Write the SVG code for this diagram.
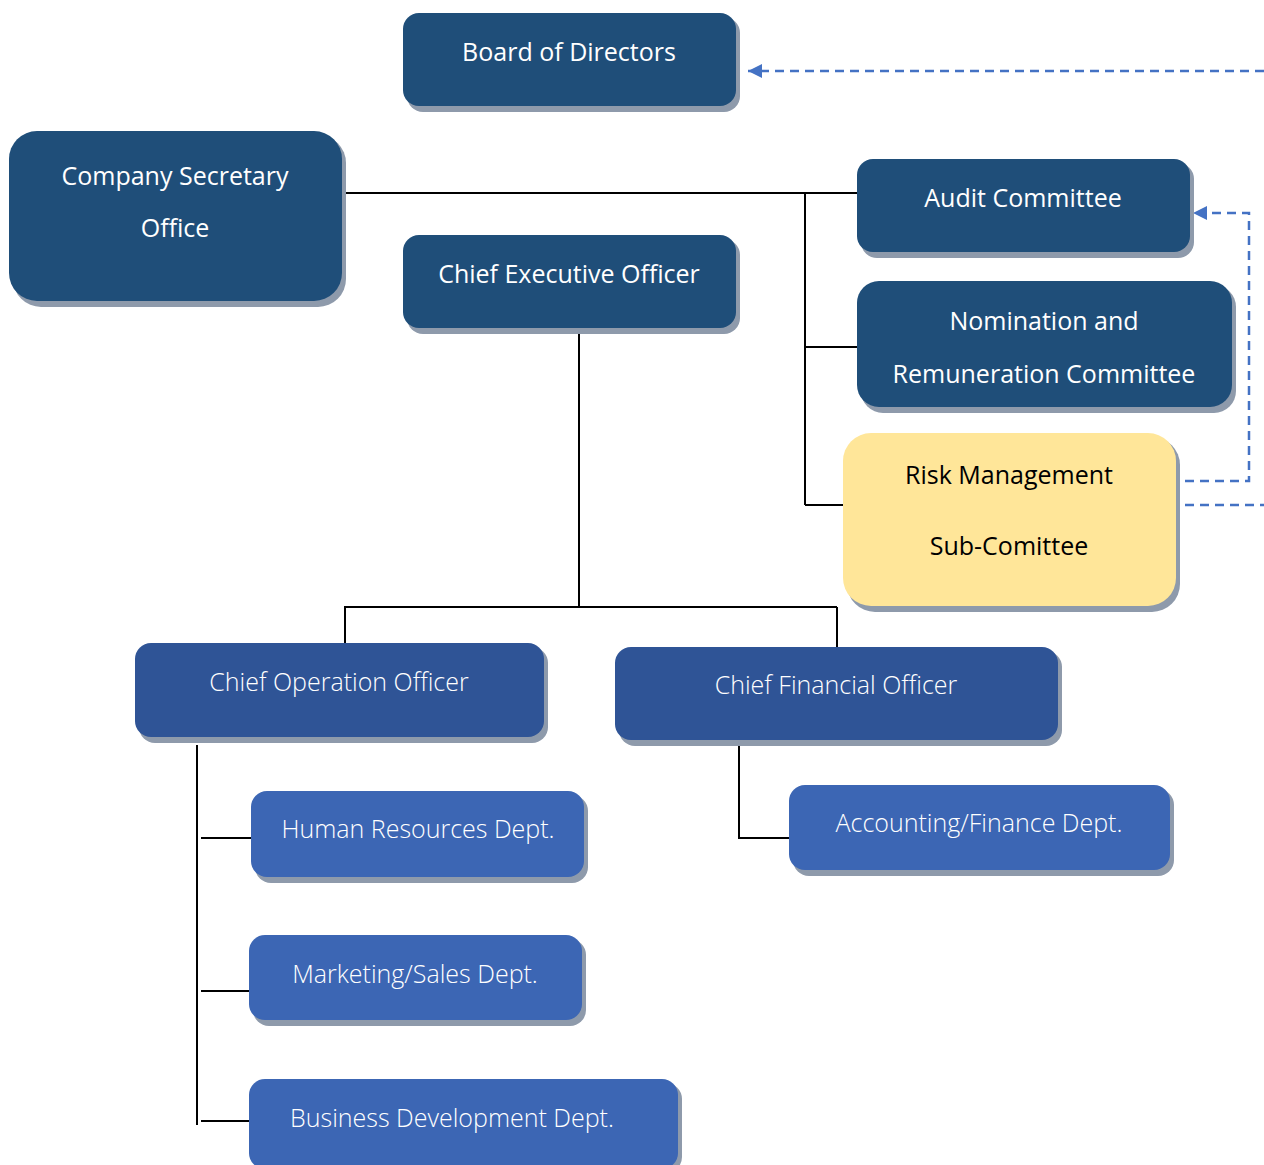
<svg xmlns="http://www.w3.org/2000/svg" width="1264" height="1165" viewBox="0 0 1264 1165">
<style>
.sh{fill:#8e9aab}
.dk{fill:#1f4e79}
.md{fill:#2f5496}
.lt{fill:#3c66b4}
.yl{fill:#ffe699}
.t{font-family:"Open Sans","Noto Sans",sans-serif;font-size:25px;fill:#ffffff;text-anchor:middle}
.tl{font-weight:300}
.tb{fill:#000000}
.ln{stroke:#000;stroke-width:2;fill:none}
.ds{stroke:#4472c4;stroke-width:2.5;fill:none;stroke-dasharray:9 6}
</style>
<defs>
<marker id="ar" viewBox="0 0 10 10" refX="10" refY="5" markerWidth="15" markerHeight="14" markerUnits="userSpaceOnUse" orient="auto">
<path d="M0,0 L10,5 L0,10 z" fill="#4472c4"/>
</marker>
</defs>
<g id="connectors">
<path class="ln" d="M342,193 H857 M805,193 V505 M805,347 H857 M805,505 H843"/>
<path class="ln" d="M579,328 V607 M344,607 H837 M345,607 V643 M837,607 V647"/>
<path class="ln" d="M197,745 V1125 M201,838 H251 M201,991 H249 M201,1121 H249"/>
<path class="ln" d="M739,743 V838 H789"/>
<path class="ds" d="M1264,71 H748" marker-end="url(#ar)"/>
<path class="ds" d="M1185,481 H1249 V213 H1193" marker-end="url(#ar)"/>
<path class="ds" d="M1185,505 H1264"/>
</g>
<g id="board">
<rect class="sh" x="407" y="17" width="333" height="95" rx="16"/>
<rect class="dk" x="403" y="13" width="333" height="93" rx="16"/>
<text class="t" x="569" y="61">Board of Directors</text>
</g>
<g id="secretary">
<rect class="sh" x="13" y="135" width="333" height="172" rx="28"/>
<rect class="dk" x="9" y="131" width="333" height="170" rx="28"/>
<text class="t" x="175" y="185">Company Secretary</text>
<text class="t" x="175" y="237">Office</text>
</g>
<g id="audit">
<rect class="sh" x="861" y="163" width="333" height="95" rx="16"/>
<rect class="dk" x="857" y="159" width="333" height="93" rx="16"/>
<text class="t" x="1023" y="207">Audit Committee</text>
</g>
<g id="nomination">
<rect class="sh" x="861" y="285" width="375" height="128" rx="22"/>
<rect class="dk" x="857" y="281" width="375" height="126" rx="22"/>
<text class="t" x="1044" y="330">Nomination and</text>
<text class="t" x="1044" y="383">Remuneration Committee</text>
</g>
<g id="risk">
<rect class="sh" x="847" y="437" width="333" height="175" rx="28"/>
<rect class="yl" x="843" y="433" width="333" height="173" rx="28"/>
<text class="t tb" x="1009" y="484">Risk Management</text>
<text class="t tb" x="1009" y="555">Sub-Comittee</text>
</g>
<g id="ceo">
<rect class="sh" x="407" y="239" width="333" height="95" rx="16"/>
<rect class="dk" x="403" y="235" width="333" height="93" rx="16"/>
<text class="t" x="569" y="283">Chief Executive Officer</text>
</g>
<g id="coo">
<rect class="sh" x="139" y="647" width="409" height="96" rx="16"/>
<rect class="md" x="135" y="643" width="409" height="94" rx="16"/>
<text class="t tl" x="339" y="691">Chief Operation Officer</text>
</g>
<g id="cfo">
<rect class="sh" x="619" y="651" width="443" height="95" rx="16"/>
<rect class="md" x="615" y="647" width="443" height="93" rx="16"/>
<text class="t tl" x="836" y="694">Chief Financial Officer</text>
</g>
<g id="hr">
<rect class="sh" x="255" y="795" width="333" height="88" rx="16"/>
<rect class="lt" x="251" y="791" width="333" height="86" rx="16"/>
<text class="t tl" x="418" y="838">Human Resources Dept.</text>
</g>
<g id="accounting">
<rect class="sh" x="793" y="789" width="381" height="87" rx="16"/>
<rect class="lt" x="789" y="785" width="381" height="85" rx="16"/>
<text class="t tl" x="979" y="832">Accounting/Finance Dept.</text>
</g>
<g id="marketing">
<rect class="sh" x="253" y="939" width="333" height="87" rx="16"/>
<rect class="lt" x="249" y="935" width="333" height="85" rx="16"/>
<text class="t tl" x="415" y="983">Marketing/Sales Dept.</text>
</g>
<g id="business">
<rect class="sh" x="253" y="1083" width="429" height="90" rx="16"/>
<rect class="lt" x="249" y="1079" width="429" height="90" rx="16"/>
<text class="t tl" x="452" y="1127">Business Development Dept.</text>
</g>
</svg>
